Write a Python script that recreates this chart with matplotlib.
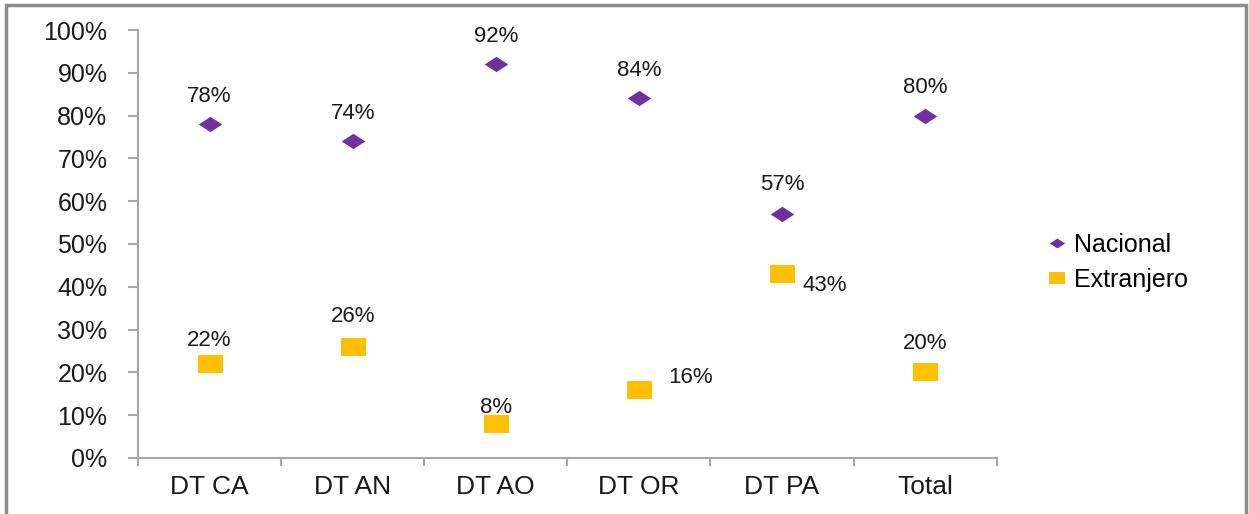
import numpy as np
import matplotlib
matplotlib.use("Agg")
import matplotlib.pyplot as plt
from matplotlib.path import Path
from matplotlib.patches import Rectangle
from matplotlib.ticker import PercentFormatter

plt.rcParams['font.family'] = ['Liberation Sans', 'DejaVu Sans']

# data
categories = ['DT CA', 'DT AN', 'DT AO', 'DT OR', 'DT PA', 'Total']
nacional = [78, 74, 92, 84, 57, 80]
extranjero = [22, 26, 8, 16, 43, 20]

# label offsets (points)
nac_off = [(0, 20), (0, 20), (0, 20), (0, 20), (0, 21), (0, 20)]
ext_off = [(0, 17), (0, 22), (0, 12), (37, 9), (31, -8), (0, 21)]

purple = '#7030A0'
gold = '#FFC000'
spine_col = '#A6A6A6'

diamond = Path([(-1, 0), (0, 0.65), (1, 0), (0, -0.65), (-1, 0)],
               [Path.MOVETO, Path.LINETO, Path.LINETO, Path.LINETO, Path.CLOSEPOLY])
rect = Path([(-1, -0.72), (1, -0.72), (1, 0.72), (-1, 0.72), (-1, -0.72)],
            [Path.MOVETO, Path.LINETO, Path.LINETO, Path.LINETO, Path.CLOSEPOLY])

fig = plt.figure(figsize=(12.49, 5.14), dpi=100)
ax = fig.add_axes([0.1105, 0.109, 0.6875, 0.8326])

x = np.arange(len(categories))
ax.plot(x, nacional, linestyle='none', marker=diamond, markersize=17,
        color=purple, markeredgewidth=0, label='Nacional')
ax.plot(x, extranjero, linestyle='none', marker=rect, markersize=18,
        color=gold, markeredgewidth=0, label='Extranjero')

for i in range(len(x)):
    ax.annotate('%d%%' % nacional[i], (x[i], nacional[i]), xytext=nac_off[i],
                textcoords='offset points', ha='center', va='center',
                fontsize=16, color='#1a1a1a')
    ax.annotate('%d%%' % extranjero[i], (x[i], extranjero[i]), xytext=ext_off[i],
                textcoords='offset points', ha='center', va='center',
                fontsize=16, color='#1a1a1a')

ax.set_xlim(-0.5, len(categories) - 0.5)
ax.set_ylim(0, 100)
ax.set_yticks(np.arange(0, 101, 10))
ax.yaxis.set_major_formatter(PercentFormatter(decimals=0))
ax.set_xticks(x)
ax.set_xticklabels(categories)
ax.set_xticks(np.arange(-0.5, len(categories), 1), minor=True)

ax.tick_params(axis='y', length=7, width=1.5, color=spine_col, pad=15,
               labelsize=18, labelcolor='#1a1a1a')
ax.tick_params(axis='x', which='major', length=0, pad=12, labelsize=19,
               labelcolor='#1a1a1a')
ax.tick_params(axis='x', which='minor', length=6, width=1.5, color=spine_col)

for s in ['top', 'right']:
    ax.spines[s].set_visible(False)
for s in ['left', 'bottom']:
    ax.spines[s].set_color(spine_col)
    ax.spines[s].set_linewidth(1.5)

h1 = plt.Line2D([], [], linestyle='none', marker=diamond, markersize=11,
                color=purple, markeredgewidth=0)
h2 = plt.Line2D([], [], linestyle='none', marker=rect, markersize=12,
                color=gold, markeredgewidth=0)
fig.legend([h1, h2], ['Nacional', 'Extranjero'], loc='center left',
           bbox_to_anchor=(0.82, 0.49), frameon=False, fontsize=18,
           handlelength=0.8, handletextpad=0.3, labelspacing=0.45)

# outer frame
fig.patches.append(Rectangle((0.0048, -0.05), 0.9928, 1.041, transform=fig.transFigure,
                             fill=False, edgecolor='#8C8C8C', linewidth=2.5))

fig.savefig('out.png', dpi=100)
